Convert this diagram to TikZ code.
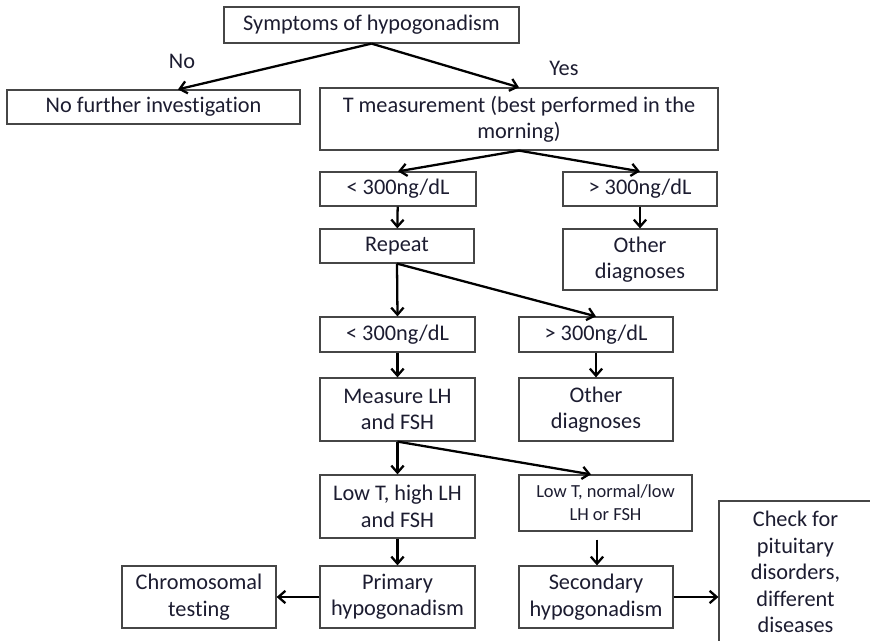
\documentclass[tikz,border=0pt]{standalone}
\usepackage{fontspec}
\setmainfont{Carlito}[RawFeature={-liga;-clig;-dlig}]
\usetikzlibrary{arrows.meta}
\definecolor{inkc}{RGB}{28,28,48}
\definecolor{framec}{RGB}{70,70,70}

\begin{document}
\begin{tikzpicture}[x=0.02cm,y=-0.02cm,
    ->,>={Straight Barb[length=4pt,width=7pt]},line width=1.3pt,
    box/.style={draw=framec,line width=0.7pt,rectangle,align=center,text=inkc,
      font=\fontsize{12.7}{15}\selectfont,inner sep=0pt},
    sz/.style 2 args={minimum width=#1*0.02cm,minimum height=#2*0.02cm},
    lbl/.style={text=inkc,font=\fontsize{12.7}{15}\selectfont}]
  \useasboundingbox (0,0) rectangle (870,641);
  % top of the tree
  \node[box,sz={295}{36}] (symp) at (371.5,25) {Symptoms of hypogonadism};
  \node[box,sz={293}{34}] (nofur) at (153.5,107) {No further investigation};
  \node[box,sz={398}{62}] (tmeas) at (519,119) {T measurement (best performed in the\\morning)};
  % first measurement
  \node[box,sz={156}{34}] (low1) at (398,189) {< 300ng/dL};
  \node[box,sz={154}{34}] (high1) at (640,189) {> 300ng/dL};
  \node[box,sz={154}{34}] (rep) at (397,246) {Repeat};
  \node[box,sz={154}{61}] (oth1) at (640,259.5) {Other\\diagnoses};
  % second measurement
  \node[box,sz={155}{35}] (low2) at (397.5,334.5) {< 300ng/dL};
  \node[box,sz={154}{35}] (high2) at (596,334.5) {> 300ng/dL};
  \node[box,sz={155}{63}] (lhfsh) at (397.5,409.5) {Measure LH\\and FSH};
  \node[box,sz={154}{63}] (oth2) at (596,409.5) {Other\\diagnoses};
  % hormone results
  \node[box,sz={155}{63}] (hilh) at (397.5,506.5) {Low T, high LH\\and FSH};
  \node[box,sz={173}{56},font=\fontsize{10.5}{13}\selectfont] (nolh) at (605.5,503) {Low T, normal/low\\LH or FSH};
  \node[box,sz={154}{62}] (chrom) at (199,597) {Chromosomal\\testing};
  \node[box,sz={155}{62}] (prim) at (397.5,597) {Primary\\hypogonadism};
  \node[box,sz={154}{62}] (sec) at (596,597) {Secondary\\hypogonadism};
  \node[box,sz={153}{142}] (pit) at (795.5,572) {Check for\\pituitary\\disorders,\\different\\diseases};
  % connectors
  \draw (symp.south) -- (nofur.north -| 178,0);
  \draw (symp.south) -- (tmeas.north);
  \node[lbl] (no) at (182,61) {No};
  \node[lbl] (yes) at (564,68) {Yes};
  \draw (tmeas.south) -- (low1.north);
  \draw (tmeas.south) -- (high1.north);
  \draw (low1) -- (rep);
  \draw (high1) -- (oth1);
  \draw (rep.south) -- (low2.north);
  \draw (rep.south) -- (high2.north);
  \draw (low2) -- (lhfsh);
  \draw (high2) -- (oth2);
  \draw (lhfsh.south) -- (hilh.north);
  \draw (lhfsh.south) -- (nolh.north -| 591,0);
  \draw (hilh) -- (prim);
  \draw ([yshift=-0.16cm]nolh.south -| 597,0) -- (sec.north -| 597,0);
  \draw (prim) -- (chrom);
  \draw (sec.east) -- (pit.west |- sec.east);
\end{tikzpicture}
\end{document}
